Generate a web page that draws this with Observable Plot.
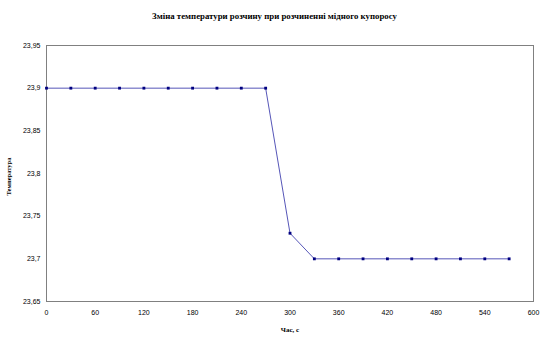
<!DOCTYPE html>
<html>
<head>
<meta charset="utf-8">
<script src="https://cdn.jsdelivr.net/npm/d3@7"></script>
<script src="https://cdn.jsdelivr.net/npm/@observablehq/plot@0.6"></script>
<style>
  html, body { margin: 0; padding: 0; background: #fff; }
  #wrap { position: relative; width: 549px; height: 342px; }
  #title { position: absolute; top: 11px; left: 0; width: 549px; text-align: center;
    font-family: "Liberation Serif", serif; font-weight: bold; font-size: 8.8px; color: #000; }
</style>
</head>
<body>
<div id="wrap">
  <div id="title">Зміна температури розчину при розчиненні мідного купоросу</div>
  <div id="chart"></div>
</div>
<script>
const times = [0, 30, 60, 90, 120, 150, 180, 210, 240, 270, 300, 330, 360, 390, 420, 450, 480, 510, 540, 570];
const temps = [23.9, 23.9, 23.9, 23.9, 23.9, 23.9, 23.9, 23.9, 23.9, 23.9, 23.73, 23.7, 23.7, 23.7, 23.7, 23.7, 23.7, 23.7, 23.7, 23.7];
const xTicks = [0, 60, 120, 180, 240, 300, 360, 420, 480, 540, 600];
const yTicks = [23.65, 23.7, 23.75, 23.8, 23.85, 23.9, 23.95];
const xLabel = "Час, с";
const yLabel = "Температура";

const data = times.map((t, i) => ({t, v: temps[i]}));
const fmt = d => String(+d.toFixed(2)).replace(".", ",");

const chart = Plot.plot({
  width: 549,
  height: 342,
  marginTop: 45,
  marginBottom: 41,
  marginLeft: 46,
  marginRight: 16,
  style: {fontFamily: "Liberation Sans, Arial, sans-serif", fontSize: "7px", color: "#000", background: "transparent"},
  x: {domain: [0, 600], ticks: xTicks, tickFormat: d => String(d), tickSize: 0, tickPadding: 9, label: null},
  y: {domain: [23.65, 23.95], ticks: yTicks, tickFormat: fmt, tickSize: 0, tickPadding: 6, label: null},
  marks: [
    Plot.frame({stroke: "#808080", strokeWidth: 1}),
    Plot.line(data, {x: "t", y: "v", stroke: "#5656b8", strokeWidth: 1}),
    Plot.dot(data, {x: "t", y: "v", symbol: "square", r: 1.6, fill: "#000080", stroke: "none"}),
    Plot.text([xLabel], {frameAnchor: "bottom", dy: 30, fontSize: 7, fontWeight: "bold", fontFamily: "Liberation Serif, serif"}),
    Plot.text([yLabel], {frameAnchor: "left", dx: -38, dy: 22, rotate: -90, fontSize: 6.5, fontWeight: "bold", fontFamily: "Liberation Serif, serif"})
  ]
});
document.getElementById("chart").appendChild(chart);
</script>
</body>
</html>
